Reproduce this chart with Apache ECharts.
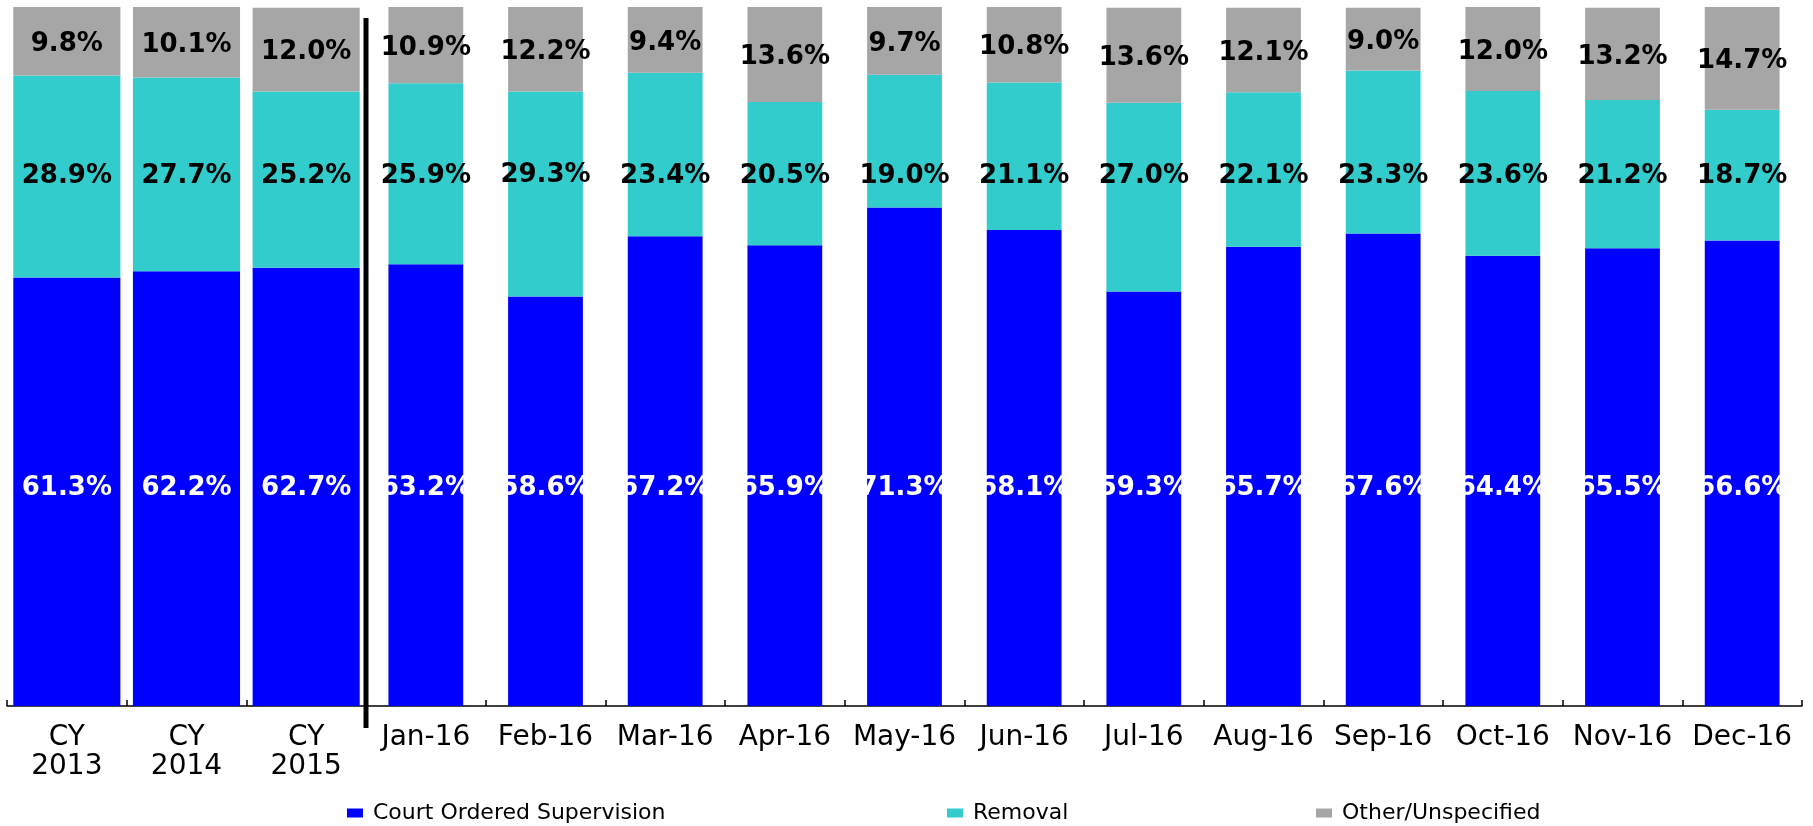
<!DOCTYPE html>
<html>
<head>
<meta charset="utf-8">
<script src="https://cdn.jsdelivr.net/npm/echarts@6/dist/echarts.min.js"></script>
<style>
  html, body { margin: 0; padding: 0; background: #ffffff; }
  #chart { width: 1813px; height: 826px; }
</style>
</head>
<body>
<div id="chart"></div>
<script>
// ---- data ----
const categories = ['CY\n2013', 'CY\n2014', 'CY\n2015', 'Jan-16', 'Feb-16', 'Mar-16', 'Apr-16', 'May-16', 'Jun-16', 'Jul-16', 'Aug-16', 'Sep-16', 'Oct-16', 'Nov-16', 'Dec-16'];
const annualCount = 3;
const seriesNames = ['Court Ordered Supervision', 'Removal', 'Other/Unspecified'];
const courtOrdered = [61.3, 62.2, 62.7, 63.2, 58.6, 67.2, 65.9, 71.3, 68.1, 59.3, 65.7, 67.6, 64.4, 65.5, 66.6];
const removal = [28.9, 27.7, 25.2, 25.9, 29.3, 23.4, 20.5, 19.0, 21.1, 27.0, 22.1, 23.3, 23.6, 21.2, 18.7];
const otherUnspecified = [9.8, 10.1, 12.0, 10.9, 12.2, 9.4, 13.6, 9.7, 10.8, 13.6, 12.1, 9.0, 12.0, 13.2, 14.7];

// ---- styles ----
const colors = ['#0000FF', '#33CCCC', '#A6A6A6'];
const labelColors = ['#FFFFFF', '#000000', '#000000'];
const valueSets = [courtOrdered, removal, otherUnspecified];
const LABEL_FONT = 26;
const LABEL_LH = 26;
const courtLabelDistance = 205;   // label box bottom above the baseline (px)
const removalLabelBoxTop = 163;   // page y of the removal label box top (px)

const chart = echarts.init(document.getElementById('chart'), null, { renderer: 'canvas' });

function baseLabel(k) {
  return {
    show: true,
    color: labelColors[k],
    fontFamily: 'DejaVu Sans',
    fontWeight: 'bold',
    fontSize: LABEL_FONT,
    lineHeight: LABEL_LH,
    formatter: p => Number(p.value).toFixed(1) + '%'
  };
}

function buildSeries(geom) {
  const series = [];
  valueSets.forEach((vals, k) => {
    [0, 1].forEach(part => {
      const label = baseLabel(k);
      if (k === 0) { label.position = 'insideBottom'; label.distance = courtLabelDistance; }
      else if (k === 1) { label.position = 'insideTop'; label.distance = 0; }
      else { label.position = 'inside'; label.offset = [0, 3]; }
      series.push({
        name: seriesNames[k],
        type: 'bar',
        stack: part === 0 ? 'annual' : 'monthly',
        xAxisIndex: part,
        yAxisIndex: 0,
        barWidth: part === 0 ? '89.5%' : '62.5%',
        itemStyle: { color: colors[k] },
        label: label,
        data: vals.map((v, i) => {
          const inPart = part === 0 ? i < annualCount : i >= annualCount;
          if (!inPart) return '-';
          if (k === 1 && geom) {
            const segTop = geom.yTop + otherUnspecified[i] * geom.pxPerUnit;
            return { value: v, label: { distance: removalLabelBoxTop - segTop } };
          }
          return v;
        })
      });
    });
  });
  return series;
}

const legendLefts = [347, 947, 1316];

chart.setOption({
  animation: false,
  backgroundColor: '#ffffff',
  grid: { left: 7, right: 11, top: 7, bottom: 120, containLabel: false },
  legend: seriesNames.map((n, k) => ({
    data: [n],
    left: legendLefts[k],
    top: 802,
    padding: 0,
    icon: 'rect',
    itemWidth: 16,
    itemHeight: 9,
    itemGap: 0,
    selectedMode: false,
    textStyle: { fontFamily: 'DejaVu Sans', fontSize: 22, color: '#000000', padding: [0, 0, 0, 5], lineHeight: 22 }
  })),
  xAxis: [
    {
      type: 'category',
      data: categories,
      position: 'bottom',
      axisLine: { show: true, lineStyle: { color: '#000000', width: 1.5 } },
      axisTick: { show: true, inside: true, length: 6, lineStyle: { color: '#000000', width: 1.5 } },
      axisLabel: { interval: 0, margin: 17, fontFamily: 'DejaVu Sans', fontSize: 28, lineHeight: 29, color: '#000000' },
      splitLine: { show: false }
    },
    {
      type: 'category',
      data: categories,
      position: 'bottom',
      show: false
    }
  ],
  yAxis: {
    type: 'value',
    min: 0,
    max: 100,
    show: false,
    splitLine: { show: false }
  },
  series: buildSeries(null)
});

// geometry from the library's scales
const yTop = chart.convertToPixel({ yAxisIndex: 0 }, 100);
const yBase = chart.convertToPixel({ yAxisIndex: 0 }, 0);
const geom = { yTop: yTop, pxPerUnit: (yBase - yTop) / 100 };

// vertical separator between annual and monthly categories
const xa = chart.convertToPixel({ xAxisIndex: 0 }, categories[annualCount - 1]);
const xb = chart.convertToPixel({ xAxisIndex: 0 }, categories[annualCount]);
const sepX = (xa + xb) / 2;

chart.setOption({
  series: buildSeries(geom),
  graphic: [{
    type: 'line',
    z: 100,
    shape: { x1: sepX, y1: yTop + 11, x2: sepX, y2: yBase + 22 },
    style: { stroke: '#000000', lineWidth: 5 }
  }]
});
</script>
</body>
</html>
